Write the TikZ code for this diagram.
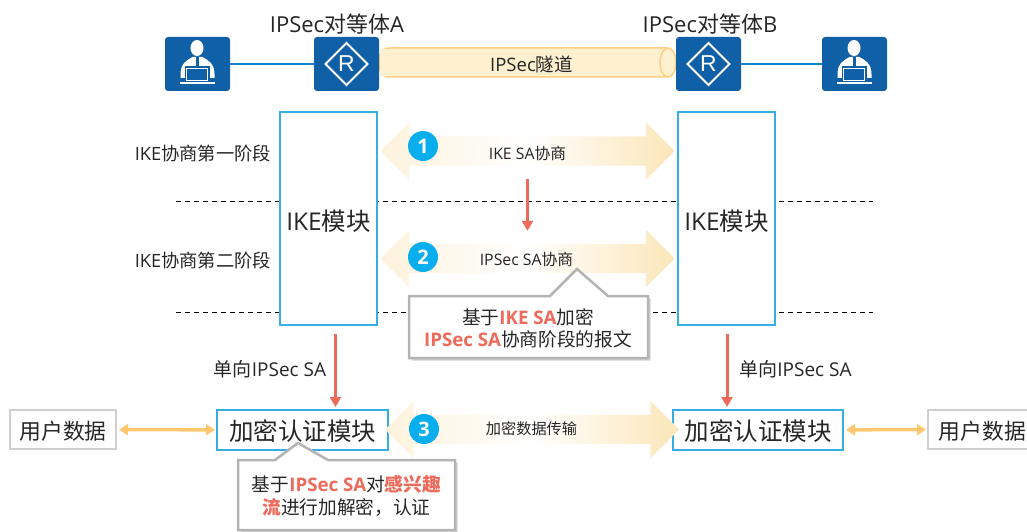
\documentclass[tikz,border=0pt]{standalone}
\usepackage{fontspec}
\setmainfont{Open Sans}
\newfontfamily\cjk{Noto Sans CJK SC}
\newfontfamily\iconfont{Liberation Sans}
\usetikzlibrary{arrows.meta,shapes.arrows,shadows}
\newcommand{\zh}[1]{{\cjk #1}}
\newcommand{\fsz}[1]{\fontsize{#1}{#1}\selectfont}
\definecolor{iconblue}{HTML}{1060A8}
\definecolor{linkblue}{HTML}{1080D0}
\definecolor{boxblue}{HTML}{35AEE6}
\definecolor{badgeblue}{HTML}{0AAEEC}
\definecolor{tunnelfill}{HTML}{FFF0CF}
\definecolor{tunneledge}{HTML}{FFD080}
\definecolor{arrowleft}{HTML}{FDF2DC}
\definecolor{arrowright}{HTML}{FBE6B8}
\definecolor{redline}{HTML}{EE6A5A}
\definecolor{yellowline}{HTML}{FFC870}
\definecolor{greyedge}{HTML}{B4B4B4}
\definecolor{datagrey}{HTML}{CFCFCF}
\definecolor{txt}{HTML}{262626}
\tikzset{
  iconbox/.style={fill=iconblue,rounded corners=3pt,minimum width=65pt,minimum height=54pt,inner sep=0pt},
  modbox/.style={draw=boxblue,line width=2pt,fill=white,text=txt,font=\fsz{24.5},inner sep=0pt,text depth=4pt},
  greybox/.style={draw=datagrey,line width=2pt,fill=white,text=txt,font=\fsz{21.8},inner sep=0pt,minimum height=39pt,text height=24.6pt,text depth=4pt},
  label/.style={text=txt,inner sep=0pt},
  sepline/.style={black,line width=1pt,dash pattern=on 5pt off 4pt},
  linkline/.style={linkblue,line width=2pt},
  redarrow/.style={redline,line width=3pt,-{Triangle[length=10pt,width=11pt]}},
  yellowarrow/.style={yellowline,line width=3.5pt,{Triangle[length=9pt,width=11pt]}-{Triangle[length=9pt,width=11pt]}},
  dblarrow/.style={double arrow,double arrow tip angle=90,double arrow head extend=14pt,
    inner sep=14.5pt,outer sep=0pt,minimum width=57pt,minimum height=294pt,
    left color=arrowleft,right color=arrowright,middle color=white},
  badge/.style={circle,fill=badgeblue,text=white,minimum size=30pt,inner sep=0pt,font=\fsz{20}\bfseries},
  calloutshape/.style={draw=greyedge,line width=2.5pt,fill=white,drop shadow={shadow xshift=2.5pt,shadow yshift=-2.5pt,opacity=.35}},
  routericon/.pic={
    \draw[white,line width=2pt] (-21,0) -- (0,-21) -- (21,0) -- (0,21) -- cycle;
    \node[text=white,inner sep=0pt,font=\iconfont\fsz{23}] at (0,0) {R};
  },
  usericon/.pic={
    \fill[white] (-0.5,-16) ellipse (6.5 and 8);
    \fill[white] (-17,10) .. controls (-17,-1) and (-10,-4) .. (-5,-7) -- (5,-7) .. controls (10,-4) and (17,-1) .. (17,10) -- (17,14) -- (-17,14) -- cycle;
    \fill[iconblue] (-1.5,-7) -- (1.5,-7) -- (1.5,2) -- (-1.5,2) -- cycle;
    \fill[iconblue] (-13,2) rectangle (12,18);
    \draw[white,line width=.8pt] (-11,4) rectangle (10,16);
    \fill[white] (-17.5,18.5) rectangle (17.5,20.5);
  }
}
\begin{document}
\begin{tikzpicture}[x=1pt,y=-1pt]
	\useasboundingbox (0,0) rectangle (1027,532);
	% top row
	\coordinate (tunnelEnd) at (668,62.5);
	\draw[tunneledge,fill=tunnelfill,line width=1.5pt] (tunnelEnd |- 0,48) -- (390,48) .. controls (380,48) and (379,55) .. (379,62.5) .. controls (379,70) and (380,77) .. (390,77) -- (tunnelEnd |- 0,77);
	\fill[tunnelfill] (380,49) rectangle (668,76);
	\draw[tunneledge,fill=tunnelfill,line width=1.5pt] (tunnelEnd) ellipse (8 and 14.5);
	\node[iconbox] (hostA) at (197.5,64) {};
	\node[iconbox] (routerA) at (346.5,64) {};
	\node[iconbox] (routerB) at (708.5,64) {};
	\node[iconbox] (hostB) at (854.5,64) {};
	\draw[linkline] (hostA) -- (routerA);
	\draw[linkline] (routerB) -- (hostB);
	\pic at (hostA) {usericon};
	\pic at (routerA) {routericon};
	\pic at (routerB) {routericon};
	\pic at (hostB) {usericon};
	\node[label,font=\fsz{22}] (peerA) at (337,24) {IPSec\zh{对等体}A};
	\node[label,font=\fsz{22}] (peerB) at (710,24) {IPSec\zh{对等体}B};
	\node[label,font=\fsz{18.5}] (tunnelText) at (531.5,64) {IPSec\zh{隧道}};

	% separators
	\coordinate (sepAL) at (176,201);
	\coordinate (sepAR) at (873,201);
	\coordinate (sepBL) at (176,312);
	\coordinate (sepBR) at (873,312);
	\draw[sepline] (sepAL) -- (sepAR);
	\draw[sepline] (sepBL) -- (sepBR);

	% modules
	\node[modbox,text height=28pt,minimum width=97pt,minimum height=213pt] (ikeA) at (328.5,218.5) {IKE\zh{模块}};
	\node[modbox,text height=28pt,minimum width=97pt,minimum height=213pt] (ikeB) at (726.5,218.5) {IKE\zh{模块}};
	\node[modbox,text height=25pt,minimum width=171pt,minimum height=40pt] (cryptoA) at (302.5,430) {\zh{加密认证模块}};
	\node[modbox,text height=25pt,minimum width=170pt,minimum height=40pt] (cryptoB) at (758,430) {\zh{加密认证模块}};
	\node[greybox,minimum width=106pt] (dataA) at (63,429.5) {\zh{用户数据}};
	\node[greybox,minimum width=109pt] (dataB) at (982.5,429.5) {\zh{用户数据}};

	% phase labels
	\node[label,font=\fsz{18.3}] (phaseA) at (203,153.5) {IKE\zh{协商第一阶段}};
	\node[label,font=\fsz{18.3}] (phaseB) at (203,260.5) {IKE\zh{协商第二阶段}};
	\node[label,font=\fsz{19}] (saA) at (270,369) {\zh{单向}IPSec SA};
	\node[label,font=\fsz{19}] (saB) at (795.5,369) {\zh{单向}IPSec SA};

	% negotiation arrows
	\node[dblarrow] (negoA) at (527.5,151) {};
	\node[dblarrow] (negoB) at (527.5,258.5) {};
	\node[dblarrow] (negoC) at (532,429.5) {};
	\node[badge] (badgeA) at (423,146) {1};
	\node[badge] (badgeB) at (423,257) {2};
	\node[badge] (badgeC) at (424,429) {3};
	\node[label,font=\fsz{15.8}] (negoAText) at (527.5,153) {IKE SA\zh{协商}};
	\node[label,font=\fsz{15.8}] (negoBText) at (526.5,259) {IPSec SA\zh{协商}};
	\node[label,font=\fsz{15.2}] (negoCText) at (531.5,429) {\zh{加密数据传输}};

	\draw[redarrow,shorten <=13pt,shorten >=13pt] (negoA.south) -- (negoB.north);
	\draw[redarrow,shorten <=8pt,shorten >=2pt] ([xshift=7pt]ikeA.south) -- ([xshift=33pt]cryptoA.north);
	\draw[redarrow,shorten <=8pt,shorten >=2pt] ([xshift=.5pt]ikeB.south) -- ([xshift=-31pt]cryptoB.north);
	\draw[yellowarrow,shorten <=2pt,shorten >=1pt] (dataA) -- (cryptoA);
	\draw[yellowarrow,shorten <=2pt,shorten >=1pt] (cryptoB) -- (dataB);

	% notes
	\draw[calloutshape] (409,296) -- (550,296) -- (577,269) -- (608,296) -- (648,296) -- (648,358) -- (409,358) -- cycle;
	\node[label,align=center,font=\fsz{18.7}] (noteA) at (528,328) {\zh{基于}\textcolor{redline}{\textbf{IKE SA}}\zh{加密}\\[3.5pt]\textcolor{redline}{\textbf{IPSec SA}}\zh{协商阶段的报文}};
	\draw[calloutshape] (238,460) -- (275,460) -- (298,443) -- (328,460) -- (455,460) -- (455,530) -- (238,530) -- cycle;
	\node[label,align=center,font=\fsz{18.7}] (noteB) at (346.5,496) {\zh{基于}\textcolor{redline}{\textbf{IPSec SA}}\zh{对}\textcolor{redline}{\textbf{\zh{感兴趣}}}\\[3.5pt]\textcolor{redline}{\textbf{\zh{流}}}\zh{进行加解密，认证}};
\end{tikzpicture}
\end{document}
